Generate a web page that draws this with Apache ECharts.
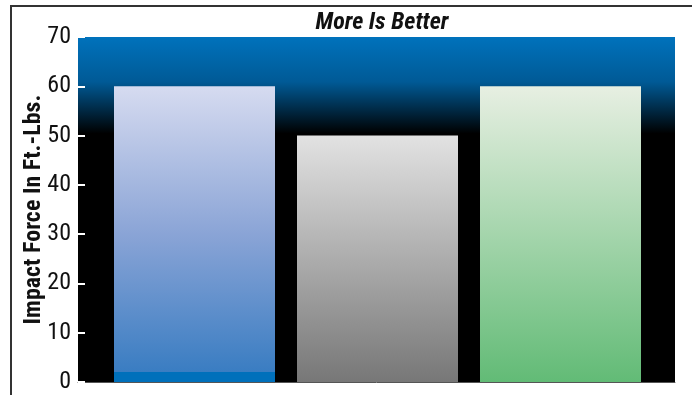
<!DOCTYPE html>
<html>
<head>
<meta charset="utf-8">
<script src="https://cdn.jsdelivr.net/npm/echarts@6/dist/echarts.min.js"></script>
<style>
  html, body { margin: 0; padding: 0; background: #fff; }
  #chart { width: 692px; height: 395px; }
</style>
</head>
<body>
<div id="chart"></div>
<script>
// Impact force comparison
const categories = ['A', 'B', 'C'];
const impactValues = [60, 50, 60];
const yTicks = [0, 10, 20, 30, 40, 50, 60, 70];

const FONT = '"Liberation Sans Narrow", "Roboto Condensed", "Arial Narrow", Roboto, sans-serif';
const G = echarts.graphic.LinearGradient;

const barFills = [
  new G(0, 0, 0, 1, [
    { offset: 0, color: '#d6dbf0' },
    { offset: 0.5, color: '#8aa4d6' },
    { offset: 0.965, color: '#3a7dc2' },
    { offset: 0.966, color: '#0070bb' },
    { offset: 1, color: '#0070bb' }
  ]),
  new G(0, 0, 0, 1, [
    { offset: 0, color: '#e2e2e2' },
    { offset: 1, color: '#777777' }
  ]),
  new G(0, 0, 0, 1, [
    { offset: 0, color: '#e7efe2' },
    { offset: 1, color: '#62bb76' }
  ])
];

const chart = echarts.init(document.getElementById('chart'), null, { renderer: 'canvas' });

chart.setOption({
  animation: false,
  backgroundColor: '#ffffff',
  title: {
    text: 'More Is Better',
    left: 377,
    textAlign: 'center',
    top: 6,
    textStyle: { fontFamily: FONT, fontSize: 24, fontWeight: 'bold', fontStyle: 'italic', color: '#111' }
  },
  graphic: [{
    type: 'rect',
    shape: { x: 11, y: 6, width: 700, height: 420 },
    style: { fill: 'none', stroke: '#333', lineWidth: 2 },
    silent: true,
    z: -10
  }],
  grid: [
    {
      left: 78, right: 17, top: 37, bottom: 13,
      show: true,
      borderWidth: 0,
      backgroundColor: new G(0, 0, 0, 1, [
        { offset: 0, color: '#0072bc' },
        { offset: 0.13, color: '#005a96' },
        { offset: 0.28, color: '#000000' },
        { offset: 1, color: '#000000' }
      ])
    },
    { left: 103, right: 40, top: 37, bottom: 13 }
  ],
  xAxis: [
    {
      gridIndex: 0, type: 'category', data: [''],
      axisLine: { show: true, lineStyle: { color: '#555', width: 1 } },
      axisTick: { show: false }, axisLabel: { show: false }
    },
    {
      gridIndex: 1, type: 'category', data: categories,
      axisLine: { show: false }, axisTick: { show: false }, axisLabel: { show: false }
    }
  ],
  yAxis: [
    {
      gridIndex: 0, type: 'value', min: 0, max: 70, interval: 10,
      name: 'Impact Force In Ft.-Lbs.',
      nameLocation: 'middle',
      nameGap: 32,
      nameMoveOverlap: false,
      nameTextStyle: { fontFamily: FONT, fontSize: 24, fontWeight: 'bold', color: '#111' },
      axisLine: { show: false },
      axisTick: { show: true, inside: true, length: 7, lineStyle: { color: '#ffffff', width: 2 } },
      axisLabel: {
        fontFamily: FONT, fontSize: 24, color: '#111', margin: 7,
        formatter: v => (yTicks.includes(v) ? String(v) : '')
      },
      splitLine: { show: false }
    },
    {
      gridIndex: 1, type: 'value', min: 0, max: 70, interval: 10,
      show: false
    }
  ],
  series: [{
    type: 'bar',
    xAxisIndex: 1,
    yAxisIndex: 1,
    barWidth: 161,
    data: impactValues.map((v, i) => ({ value: v, itemStyle: { color: barFills[i] } }))
  }]
});
</script>
</body>
</html>
